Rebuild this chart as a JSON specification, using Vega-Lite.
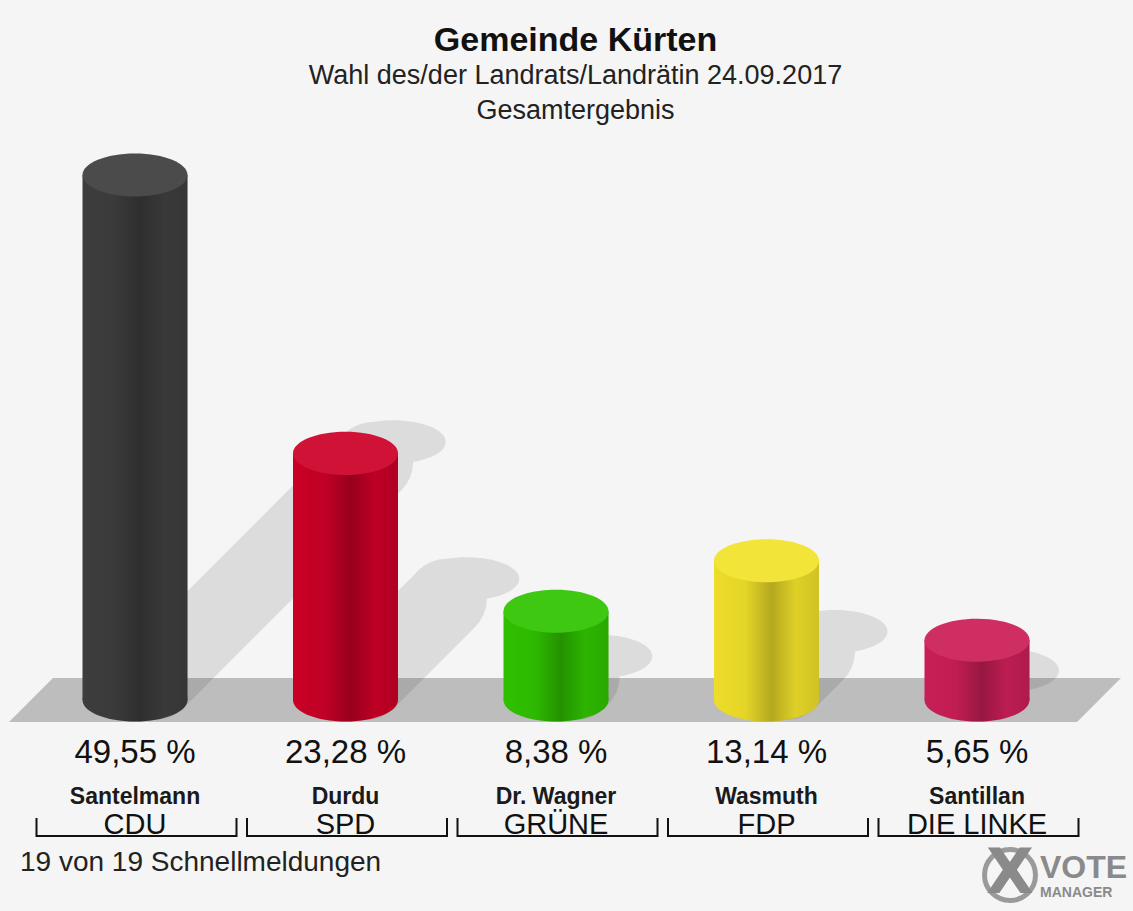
{
  "$schema": "https://vega.github.io/schema/vega-lite/v6.json",
  "width": 1133,
  "height": 781,
  "autosize": {"type": "none"},
  "padding": {"left": 0, "right": 0, "top": 130, "bottom": 0},
  "background": "#f5f5f5",
  "config": {"view": {"stroke": null}},
  "title": {
    "text": "Gemeinde Kürten",
    "subtitle": ["Wahl des/der Landrats/Landrätin 24.09.2017", "Gesamtergebnis"],
    "anchor": "middle",
    "frame": "group",
    "dx": 9,
    "offset": 6,
    "font": "Liberation Sans",
    "fontSize": 34,
    "fontWeight": "bold",
    "color": "#111111",
    "subtitleFont": "Liberation Sans",
    "subtitleFontSize": 27,
    "subtitleColor": "#222222",
    "subtitleLineHeight": 35,
    "subtitlePadding": 5
  },
  "data": {
    "values": [
      {"party": "CDU", "cand": "Santelmann", "pct": 49.55},
      {"party": "SPD", "cand": "Durdu", "pct": 23.28},
      {"party": "GRÜNE", "cand": "Dr. Wagner", "pct": 8.38},
      {"party": "FDP", "cand": "Wasmuth", "pct": 13.14},
      {"party": "DIE LINKE", "cand": "Santillan", "pct": 5.65}
    ]
  },
  "transform": [
    {"calculate": "replace(format(datum.pct, '.2f'), '.', ',') + ' %'", "as": "label"}
  ],
  "encoding": {
    "x": {
      "field": "party",
      "type": "nominal",
      "scale": {"type": "point", "domain": ["CDU", "SPD", "GRÜNE", "FDP", "DIE LINKE"], "range": [135, 977], "padding": 0},
      "axis": null
    }
  },
  "layer": [
    {
      "mark": {"type": "point", "shape": "M 0 0 L 1 -1", "filled": false, "color": "#dcdcdc", "stroke": "#dcdcdc", "strokeWidth": 80, "strokeCap": "round", "strokeDash": [5000, 56.6], "strokeDashOffset": 5000, "opacity": 1, "xOffset": -20, "yOffset": 20},
      "encoding": {
        "y": {"datum": 0, "type": "quantitative", "scale": {"domain": [-19.91, 53.80], "nice": false, "zero": false}, "axis": null},
        "size": {"field": "pct", "type": "quantitative", "scale": {"type": "pow", "exponent": 2, "domain": [0, 50], "range": [0, 271441]}, "legend": null}
      }
    },
    {
      "mark": {"type": "point", "shape": "M -1 0 C -1 -0.2264 -0.5523 -0.41 0 -0.41 C 0.5523 -0.41 1 -0.2264 1 0 C 1 0.2264 0.5523 0.41 0 0.41 C -0.5523 0.41 -1 0.2264 -1 0 Z", "size": 11025, "filled": true, "color": "#dcdcdc", "fill": "#dcdcdc", "opacity": 1, "strokeWidth": 0},
      "encoding": {
        "y": {"datum": 0, "type": "quantitative", "scale": {"domain": [-19.91, 53.80], "nice": false, "zero": false}, "axis": null},
        "xOffset": {"field": "pct", "type": "quantitative", "scale": {"domain": [0, 50], "range": [0, 260.5]}},
        "yOffset": {"field": "pct", "type": "quantitative", "scale": {"domain": [0, 50], "range": [0, -260.5]}}
      }
    },
    {
      "data": {"values": [{"k": "floor"}]},
      "mark": {"type": "point", "shape": "M -0.921 -0.0396 L 1 -0.0396 L 0.921 0.0396 L -1 0.0396 Z", "size": 1236544, "filled": true, "fill": "#000000", "opacity": 0.229, "strokeWidth": 0, "xOffset": 9},
      "encoding": {
        "x": {"datum": "GRÜNE", "type": "nominal"},
        "y": {"datum": 0, "type": "quantitative", "scale": {"domain": [-19.91, 53.80], "nice": false, "zero": false}, "axis": null}
      }
    },
    {
      "mark": {"type": "point", "shape": "M -1 0 C -1 -0.2264 -0.5523 -0.41 0 -0.41 C 0.5523 -0.41 1 -0.2264 1 0 C 1 0.2264 0.5523 0.41 0 0.41 C -0.5523 0.41 -1 0.2264 -1 0 Z", "size": 11025, "filled": true, "opacity": 1, "strokeWidth": 0},
      "encoding": {
        "y": {"datum": 0, "type": "quantitative", "scale": {"domain": [-19.91, 53.80], "nice": false, "zero": false}, "axis": null},
        "color": {"field": "party", "type": "nominal", "scale": {"domain": ["CDU", "SPD", "GRÜNE", "FDP", "DIE LINKE"], "range": ["#3e3e3e", "#cd0027", "#30c400", "#f2e22a", "#cc1f58"]}, "legend": null}
      }
    },
    {
      "mark": {"type": "point", "shape": "M -1 0 C -1 -0.2264 -0.5523 -0.41 0 -0.41 C 0.5523 -0.41 1 -0.2264 1 0 C 1 0.2264 0.5523 0.41 0 0.41 C -0.5523 0.41 -1 0.2264 -1 0 Z", "size": 11025, "filled": true, "opacity": 1, "strokeWidth": 0,
        "fill": {"gradient": "linear", "x1": 0, "y1": 0, "x2": 1, "y2": 0, "stops": [{"offset": 0, "color": "rgba(0,0,0,0.02)"}, {"offset": 0.3, "color": "rgba(0,0,0,0.06)"}, {"offset": 0.55, "color": "rgba(0,0,0,0.26)"}, {"offset": 0.78, "color": "rgba(0,0,0,0.08)"}, {"offset": 1, "color": "rgba(0,0,0,0.14)"}]}},
      "encoding": {
        "y": {"datum": 0, "type": "quantitative", "scale": {"domain": [-19.91, 53.80], "nice": false, "zero": false}, "axis": null}
      }
    },
    {
      "mark": {"type": "bar", "width": 105, "strokeWidth": 0},
      "encoding": {
        "y": {"field": "pct", "type": "quantitative", "scale": {"domain": [-19.91, 53.80], "nice": false, "zero": false}, "axis": null},
        "y2": {"datum": 0},
        "color": {"field": "party", "type": "nominal", "scale": {"domain": ["CDU", "SPD", "GRÜNE", "FDP", "DIE LINKE"], "range": ["#3e3e3e", "#cd0027", "#30c400", "#f2e22a", "#cc1f58"]}, "legend": null}
      }
    },
    {
      "mark": {"type": "bar", "width": 105, "strokeWidth": 0,
        "fill": {"gradient": "linear", "x1": 0, "y1": 0, "x2": 1, "y2": 0, "stops": [{"offset": 0, "color": "rgba(0,0,0,0.02)"}, {"offset": 0.3, "color": "rgba(0,0,0,0.06)"}, {"offset": 0.55, "color": "rgba(0,0,0,0.26)"}, {"offset": 0.78, "color": "rgba(0,0,0,0.08)"}, {"offset": 1, "color": "rgba(0,0,0,0.14)"}]}},
      "encoding": {
        "y": {"field": "pct", "type": "quantitative", "scale": {"domain": [-19.91, 53.80], "nice": false, "zero": false}, "axis": null},
        "y2": {"datum": 0}
      }
    },
    {
      "mark": {"type": "point", "shape": "M -1 0 C -1 -0.2264 -0.5523 -0.41 0 -0.41 C 0.5523 -0.41 1 -0.2264 1 0 C 1 0.2264 0.5523 0.41 0 0.41 C -0.5523 0.41 -1 0.2264 -1 0 Z", "size": 11025, "filled": true, "opacity": 1, "strokeWidth": 0},
      "encoding": {
        "y": {"field": "pct", "type": "quantitative", "scale": {"domain": [-19.91, 53.80], "nice": false, "zero": false}, "axis": null},
        "color": {"field": "party", "type": "nominal", "scale": {"domain": ["CDU", "SPD", "GRÜNE", "FDP", "DIE LINKE"], "range": ["#3e3e3e", "#cd0027", "#30c400", "#f2e22a", "#cc1f58"]}, "legend": null}
      }
    },
    {
      "mark": {"type": "point", "shape": "M -1 0 C -1 -0.2264 -0.5523 -0.41 0 -0.41 C 0.5523 -0.41 1 -0.2264 1 0 C 1 0.2264 0.5523 0.41 0 0.41 C -0.5523 0.41 -1 0.2264 -1 0 Z", "size": 11025, "filled": true, "fill": "#ffffff", "opacity": 0.07, "strokeWidth": 0},
      "encoding": {
        "y": {"field": "pct", "type": "quantitative", "scale": {"domain": [-19.91, 53.80], "nice": false, "zero": false}, "axis": null}
      }
    },
    {
      "mark": {"type": "text", "font": "Liberation Sans", "fontSize": 33, "baseline": "alphabetic", "dy": 63, "color": "#111111"},
      "encoding": {
        "y": {"datum": 0, "type": "quantitative", "scale": {"domain": [-19.91, 53.80], "nice": false, "zero": false}, "axis": null},
        "text": {"field": "label"}
      }
    },
    {
      "mark": {"type": "text", "font": "Liberation Sans", "fontSize": 23, "fontWeight": "bold", "baseline": "alphabetic", "dy": 104, "color": "#1a1a1a"},
      "encoding": {
        "y": {"datum": 0, "type": "quantitative", "scale": {"domain": [-19.91, 53.80], "nice": false, "zero": false}, "axis": null},
        "text": {"field": "cand"}
      }
    },
    {
      "mark": {"type": "text", "font": "Liberation Sans", "fontSize": 29, "baseline": "alphabetic", "dy": 134, "color": "#111111"},
      "encoding": {
        "y": {"datum": 0, "type": "quantitative", "scale": {"domain": [-19.91, 53.80], "nice": false, "zero": false}, "axis": null},
        "text": {"field": "party"}
      }
    },
    {
      "mark": {"type": "point", "shape": "M -1 -0.18 L -1 0 L 1 0 L 1 -0.18", "size": 40000, "filled": false, "color": "#111111", "stroke": "#111111", "strokeWidth": 2, "opacity": 1, "xOffset": 1.5, "yOffset": 136},
      "encoding": {
        "y": {"datum": 0, "type": "quantitative", "scale": {"domain": [-19.91, 53.80], "nice": false, "zero": false}, "axis": null}
      }
    },
    {
      "data": {"values": [{"t": "19 von 19 Schnellmeldungen"}]},
      "mark": {"type": "text", "font": "Liberation Sans", "fontSize": 28, "align": "left", "baseline": "alphabetic", "dx": -115, "dy": 171, "color": "#222222"},
      "encoding": {
        "x": {"datum": "CDU", "type": "nominal"},
        "y": {"datum": 0, "type": "quantitative", "scale": {"domain": [-19.91, 53.80], "nice": false, "zero": false}, "axis": null},
        "text": {"field": "t"}
      }
    },
    {
      "data": {"values": [{"t": "logo"}]},
      "mark": {"type": "point", "shape": "circle", "size": 2600, "filled": false, "color": "#9a9a9a", "stroke": "#9a9a9a", "strokeWidth": 5, "opacity": 1, "xOffset": 33, "yOffset": 175},
      "encoding": {
        "x": {"datum": "DIE LINKE", "type": "nominal"},
        "y": {"datum": 0, "type": "quantitative", "scale": {"domain": [-19.91, 53.80], "nice": false, "zero": false}, "axis": null}
      }
    },
    {
      "data": {"values": [{"t": "X"}]},
      "mark": {"type": "text", "font": "DejaVu Sans", "fontSize": 62, "fontWeight": "bold", "align": "center", "baseline": "middle", "dx": 33, "dy": 174, "color": "#8a8a8a"},
      "encoding": {
        "x": {"datum": "DIE LINKE", "type": "nominal"},
        "y": {"datum": 0, "type": "quantitative", "scale": {"domain": [-19.91, 53.80], "nice": false, "zero": false}, "axis": null},
        "text": {"field": "t"}
      }
    },
    {
      "data": {"values": [{"t": "VOTE"}]},
      "mark": {"type": "text", "font": "Liberation Sans", "fontSize": 32, "fontWeight": "bold", "align": "left", "baseline": "alphabetic", "dx": 63, "dy": 178, "color": "#8a8a8a"},
      "encoding": {
        "x": {"datum": "DIE LINKE", "type": "nominal"},
        "y": {"datum": 0, "type": "quantitative", "scale": {"domain": [-19.91, 53.80], "nice": false, "zero": false}, "axis": null},
        "text": {"field": "t"}
      }
    },
    {
      "data": {"values": [{"t": "MANAGER"}]},
      "mark": {"type": "text", "font": "Liberation Sans", "fontSize": 14, "fontWeight": "bold", "align": "left", "baseline": "alphabetic", "dx": 63, "dy": 197, "color": "#8a8a8a"},
      "encoding": {
        "x": {"datum": "DIE LINKE", "type": "nominal"},
        "y": {"datum": 0, "type": "quantitative", "scale": {"domain": [-19.91, 53.80], "nice": false, "zero": false}, "axis": null},
        "text": {"field": "t"}
      }
    }
  ]
}
